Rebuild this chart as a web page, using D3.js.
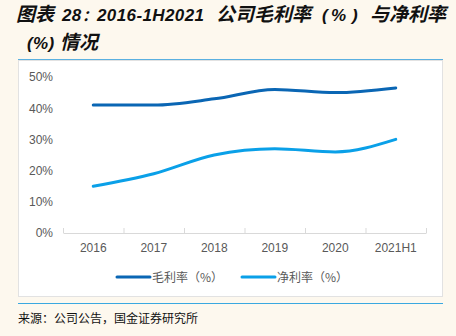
<!DOCTYPE html>
<html><head><meta charset="utf-8">
<script src="https://cdn.jsdelivr.net/npm/d3@7"></script>
<style>html,body{margin:0;padding:0;background:#fdf8ee;}svg{display:block;}</style>
</head><body>
<script>
const categories = ["2016","2017","2018","2019","2020","2021H1"];
const grossMargin = [41, 41, 43, 46, 45, 46.5];
const netMargin = [15, 19, 25, 27, 26, 30];
const yTicks = [0, 10, 20, 30, 40, 50];
const seriesNames = ["毛利率（%）", "净利率（%）"];
const colors = ["#0a66b4", "#0aa0e8"];

const W = 456, H = 336;
const svg = d3.select("body").append("svg").attr("width", W).attr("height", H);
svg.append("rect").attr("width", W).attr("height", H).attr("fill", "#fdf8ee");

const font = "'Noto Sans CJK SC','Noto Sans',sans-serif";
const cjk = "'Noto Sans CJK SC',sans-serif";
const lat = "'Liberation Sans',Arial,sans-serif";
// title segments: [text, x, kind, size]
const titleLine1 = [
  ["图表", 16, "c", 19], ["28", 62, "l", 17], ["：", 82, "c", 15], ["2016-1H2021", 97, "l", 17],
  ["公司毛利率", 216, "c", 19], ["(", 322, "l", 17], ["%", 331, "l", 17], [")", 352, "l", 17],
  ["与净利率", 370, "c", 19]
];
const titleLine2 = [
  ["(", 27, "l", 17], ["%", 33, "l", 17], [")", 48.5, "l", 17], ["情况", 60, "c", 19]
];
const title = svg.append("g").attr("font-weight", "bold").attr("font-style", "italic").attr("fill", "#111");
function drawTitle(segs, yy) {
  const t = title.append("text").attr("y", yy);
  segs.forEach(([s, xx, k, fs]) => t.append("tspan").attr("x", xx)
    .attr("font-family", k === "c" ? cjk : lat)
    .attr("letter-spacing", k === "c" ? 0 : 0.4)
    .attr("font-size", fs).text(s));
}
drawTitle(titleLine1, 21);
drawTitle(titleLine2, 49);

svg.append("line").attr("x1", 18).attr("x2", 443).attr("y1", 59.5).attr("y2", 59.5).attr("stroke", "#5ab0e0").attr("stroke-width", 1);

// panel
svg.append("rect").attr("x", 18.5).attr("y", 60.5).attr("width", 424).attr("height", 236).attr("fill", "#fff").attr("stroke", "#e2e2e2").attr("stroke-width", 1);

svg.append("line").attr("x1", 18).attr("x2", 443).attr("y1", 303.5).attr("y2", 303.5).attr("stroke", "#3aa8e0").attr("stroke-width", 1);

svg.append("text").attr("x", 18).attr("y", 323).attr("font-family", font).attr("font-size", 12).attr("fill", "#111").text("来源：公司公告，国金证券研究所");

const x = d3.scaleBand().domain(categories).range([63, 426]);
const y = d3.scaleLinear().domain([0, 50]).range([233, 77]);

// y axis labels
const yAxis = svg.append("g").attr("transform", "translate(53,0)")
  .call(d3.axisLeft(y).tickValues(yTicks).tickFormat(d => d + "%").tickSize(0).tickPadding(0));
yAxis.select(".domain").remove();
yAxis.selectAll("text").attr("font-family", lat).attr("font-size", 12).attr("fill", "#595959");

// x axis
const xAxis = svg.append("g").attr("transform", "translate(0,233)")
  .call(d3.axisBottom(x).tickSizeOuter(0).tickSize(0).tickPadding(10));
xAxis.select(".domain").attr("stroke", "#d9d9d9");
xAxis.selectAll("text").attr("font-family", lat).attr("font-size", 12).attr("fill", "#595959");
// band boundary ticks
const bounds = categories.map(c => x(c)).concat([x.range()[1]]);
svg.append("g").selectAll("line").data(bounds).join("line")
  .attr("x1", d => d + 0.5).attr("x2", d => d + 0.5).attr("y1", 233).attr("y2", 228)
  .attr("stroke", "#d9d9d9");

const line = d3.line().x((d, i) => x(categories[i]) + x.bandwidth() / 2).y(d => y(d)).curve(d3.curveMonotoneX);
[grossMargin, netMargin].forEach((s, k) => {
  svg.append("path").datum(s).attr("d", line).attr("fill", "none").attr("stroke", colors[k]).attr("stroke-width", 3).attr("stroke-linecap", "round");
});

// legend
const legX = [117, 242];
seriesNames.forEach((n, k) => {
  svg.append("line").attr("x1", legX[k]).attr("x2", legX[k] + 33).attr("y1", 277).attr("y2", 277).attr("stroke", colors[k]).attr("stroke-width", 3).attr("stroke-linecap", "round");
  svg.append("text").attr("x", legX[k] + 35).attr("y", 281.5).attr("font-family", font).attr("font-size", 12).attr("fill", "#595959").text(n);
});
</script>
</body></html>
